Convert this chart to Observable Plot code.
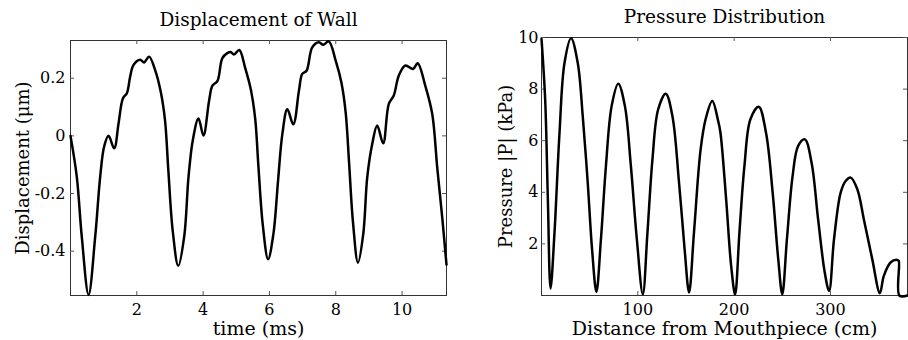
<!DOCTYPE html>
<html><head><meta charset="utf-8">
<script src="https://cdn.jsdelivr.net/npm/d3@7"></script>
<script src="https://cdn.jsdelivr.net/npm/@observablehq/plot@0.6"></script>
<style>
body{margin:0;background:#fff;}
#wrap{display:flex;width:908px;height:340px;overflow:hidden;}
svg text{font-family:"DejaVu Serif","Liberation Serif",serif;}
</style></head><body><div id="wrap"></div>
<script>
// ---- Left panel data: wall displacement vs time ----
const timeMs = [0,0.19,0.34,0.545,0.745,0.895,1.015,1.147,1.317,1.45,1.58,1.70,1.80,1.90,2.10,2.22,2.37,2.55,2.72,2.85,2.95,3.08,3.25,3.43,3.56,3.69,3.86,4.01,4.18,4.28,4.43,4.58,4.73,4.83,4.93,5.09,5.27,5.44,5.57,5.67,5.80,5.96,6.12,6.26,6.39,6.54,6.72,6.89,6.99,7.12,7.29,7.49,7.62,7.79,8.00,8.17,8.30,8.40,8.52,8.67,8.83,8.95,9.10,9.25,9.43,9.60,9.75,9.90,10.10,10.33,10.47,10.70,10.91,11.06,11.21,11.34];
const displacement = [0,-0.142,-0.35,-0.552,-0.35,-0.142,-0.037,0.0,-0.043,0.044,0.13,0.148,0.206,0.246,0.264,0.255,0.275,0.229,0.154,0.055,-0.118,-0.326,-0.451,-0.349,-0.141,-0.014,0.06,0.001,0.122,0.174,0.19,0.27,0.287,0.291,0.282,0.298,0.235,0.16,0.06,-0.11,-0.31,-0.428,-0.34,-0.155,0.007,0.092,0.04,0.157,0.215,0.226,0.307,0.325,0.316,0.328,0.26,0.185,0.08,-0.09,-0.30,-0.44,-0.34,-0.143,-0.028,0.036,-0.026,0.111,0.14,0.209,0.244,0.232,0.252,0.174,0.076,-0.109,-0.282,-0.447];

// ---- Right panel data: pressure magnitude vs distance ----
const distanceCm = [0,3.8,6.6,9.4,13.5,18.7,23.9,30.7,37.6,42.8,48,52.5,57,61.7,66.9,72.8,79.7,86.6,92.8,99,105.2,110,115.2,121.1,129,135.9,142.8,148.6,153.2,158.3,165.2,170.5,177.3,183.5,185.8,191.7,196.9,201,205.5,210.7,216.9,225.5,233.1,240,245.8,250,254.8,260.7,266.5,273.4,280.4,287.2,294.1,298.6,303.7,310.6,315.8,321,327.9,334.7,343.4,351.3,355.4,362.4,369.3,370.9,371.6,380];
const pressureKPa = [9.95,7.6,3.73,0.27,2.44,6.31,9.02,9.97,9.02,6.96,4.37,1.79,0.14,2.18,5.02,7.34,8.21,7.34,5.02,2.18,0.05,2.44,5.28,7.21,7.82,6.96,4.37,1.79,0.12,2.44,5.66,6.85,7.54,6.75,6.31,3.73,1.15,0.05,2.44,5.02,6.83,7.32,6.31,3.99,1.41,0.05,2.18,4.63,5.8,6.05,5.15,2.95,0.89,0.18,2.18,3.99,4.44,4.57,4.12,2.95,1.41,0.09,0.76,1.28,1.38,1.34,0,0];

// ---- Ticks and texts ----
const leftXTicks = [2,4,6,8,10];
const leftYTicks = [-0.4,-0.2,0,0.2];
const rightXTicks = [100,200,300];
const rightYTicks = [2,4,6,8,10];
const titles = ["Displacement of Wall","Pressure Distribution"];
const xLabels = ["time (ms)","Distance from Mouthpiece (cm)"];
const yLabels = ["Displacement (μm)","Pressure |P| (kPa)"];

const FONT = "'DejaVu Serif', 'Liberation Serif', serif";

function panel(o){
  const W = 454, H = 340;
  const fw = W - o.ml - o.mr, fh = H - o.mt - o.mb;
  const data = o.xs.map((x,i)=>({x, y:o.ys[i]}));
  const tickStroke = "#555";
  return Plot.plot({
    width: W, height: H,
    marginLeft: o.ml, marginRight: o.mr, marginTop: o.mt, marginBottom: o.mb,
    x: {domain: o.xd, axis: null},
    y: {domain: o.yd, axis: null},
    style: {fontFamily: FONT, fontSize: "16px", background: "white", color: "black", overflow: "visible"},
    marks: [
      Plot.frame({stroke: "#333", strokeWidth: 1}),
      // inward ticks on all four sides
      Plot.tickX(o.xt, {x: d=>d, insetTop: fh - 4, stroke: tickStroke}),
      Plot.tickX(o.xt, {x: d=>d, insetBottom: fh - 4, stroke: tickStroke}),
      Plot.tickY(o.yt, {y: d=>d, insetRight: fw - 4, stroke: tickStroke}),
      Plot.tickY(o.yt, {y: d=>d, insetLeft: fw - 4, stroke: tickStroke}),
      Plot.line(data, {x: "x", y: "y", stroke: "black", strokeWidth: 2.5, curve: "catmull-rom"}),
      // tick labels
      Plot.text(o.xt, {x: d=>d, frameAnchor: "bottom", lineAnchor: "bottom", dy: 19, fontSize: 16, text: d=>String(d), fill: "black"}),
      Plot.text(o.yt, {y: d=>d, frameAnchor: "left", textAnchor: "end", dx: -o.ytp, fontSize: 16, text: d=>String(d), fill: "black"}),
      // title, axis labels
      Plot.text([o.title], {frameAnchor: "top", lineAnchor: "bottom", textAnchor: "middle", dy: -15, fontSize: 18.5, text: d=>d, fill: "black"}),
      Plot.text([o.xl], {frameAnchor: "bottom", lineAnchor: "bottom", textAnchor: "middle", dy: 39.5, fontSize: 19, text: d=>d, fill: "black"}),
      Plot.text([o.yl], {frameAnchor: "left", lineAnchor: "bottom", textAnchor: "middle", rotate: -90, dx: -o.yld, fontSize: 18, text: d=>d, fill: "black"})
    ]
  });
}

const wrap = document.getElementById("wrap");
wrap.append(panel({
  xs: timeMs, ys: displacement, xd: [0, 11.34], yd: [-0.554, 0.331],
  xt: leftXTicks, yt: leftYTicks, ml: 70, mr: 8, mt: 40, mb: 45,
  ytp: 5, yld: 42, title: titles[0], xl: xLabels[0], yl: yLabels[0]
}));
wrap.append(panel({
  xs: distanceCm, ys: pressureKPa, xd: [0, 380], yd: [0, 10],
  xt: rightXTicks, yt: rightYTicks, ml: 87, mr: 1, mt: 37, mb: 45,
  ytp: 3, yld: 30, title: titles[1], xl: xLabels[1], yl: yLabels[1]
}));
</script></body></html>
